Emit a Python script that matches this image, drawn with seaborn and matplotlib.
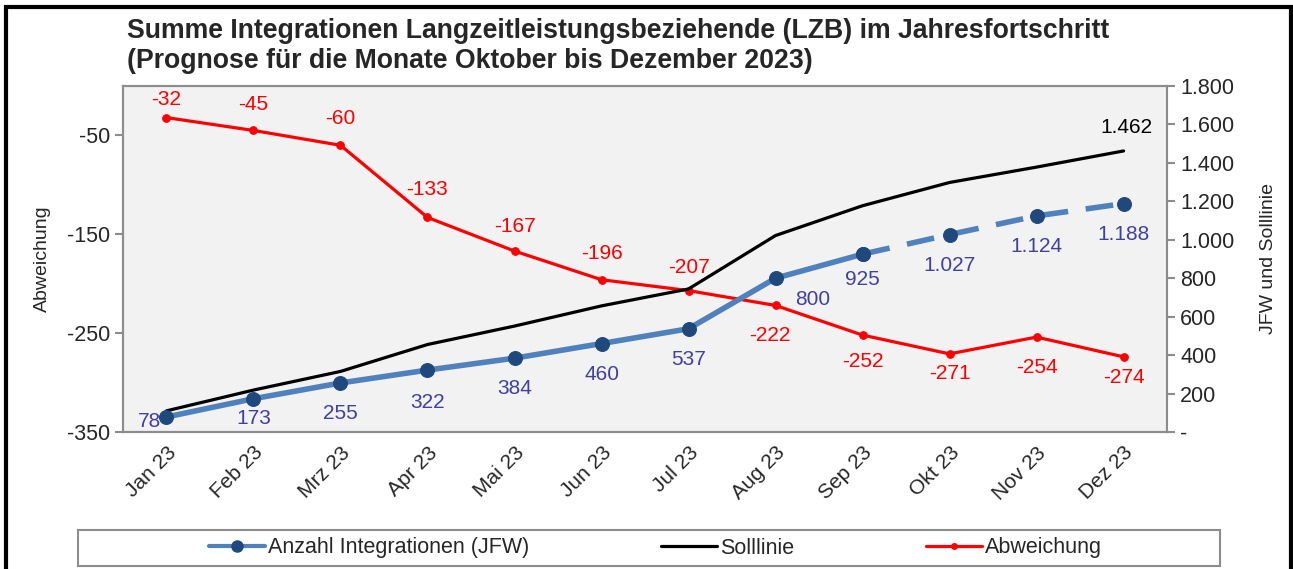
import pandas as pd
import matplotlib
matplotlib.use("Agg")
import matplotlib.pyplot as plt
import seaborn as sns
from matplotlib.lines import Line2D
from matplotlib.patches import Rectangle
from matplotlib.ticker import FuncFormatter, FixedLocator

# ===============================
# DATA
# ===============================

months = ["Jan 23", "Feb 23", "Mrz 23", "Apr 23", "Mai 23", "Jun 23",
          "Jul 23", "Aug 23", "Sep 23", "Okt 23", "Nov 23", "Dez 23"]
jfw = [78, 173, 255, 322, 384, 460, 537, 800, 925, 1027, 1124, 1188]
soll = [110, 218, 315, 455, 551, 656, 744, 1022, 1177, 1298, 1378, 1462]
abw = [-32, -45, -60, -133, -167, -196, -207, -222, -252, -271, -254, -274]
n_ist = 9  # Jan - Sep Ist, Okt - Dez Prognose

df = pd.DataFrame({"pos": range(len(months)), "Monat": months,
                   "JFW": jfw, "Soll": soll, "Abw": abw})

# label offsets in points (x, y), as placed in the original chart
abw_off = [(0, 13), (0, 19), (0, 19), (0, 20), (0, 18), (0, 19), (0, 17),
           (-4, -22), (0, -19), (0, -14), (0, -22), (0, -15)]
jfw_off = [(-4, -3), (0, -14), (0, -22), (0, -23), (0, -22), (0, -22), (0, -22),
           (14, -15), (0, -18), (0, -22), (0, -22), (0, -22)]

# ===============================
# STYLE
# ===============================

sns.set_style("white")
plt.rcParams["font.family"] = ["Liberation Sans", "DejaVu Sans"]
plt.rcParams["axes.unicode_minus"] = False

blue = "#4F81BD"
navy = "#1F497D"
label_blue = "#4040A0"
red = "#FF0000"
grey = "#8C8C8C"


def de_fmt(v):
    return f"{int(v):,}".replace(",", ".")


fig = plt.figure(figsize=(12.93, 5.69), dpi=100)
ax = fig.add_axes([0.0951, 0.2408, 0.8075, 0.6081])
ax.set_facecolor("#F2F2F2")
ax2 = ax.twinx()

# ===============================
# LINES
# ===============================

sns.lineplot(data=df, x="pos", y="Abw", ax=ax, color=red, lw=2.3,
             marker="o", markersize=5.5, markeredgecolor=red, markerfacecolor=red)

sns.lineplot(data=df, x="pos", y="Soll", ax=ax2, color="black", lw=2.3)

sns.lineplot(data=df.iloc[:n_ist], x="pos", y="JFW", ax=ax2, color=blue, lw=4,
             marker="o", markersize=10, markerfacecolor=navy, markeredgecolor=navy)
sns.lineplot(data=df.iloc[n_ist - 1:], x="pos", y="JFW", ax=ax2, color=blue, lw=4,
             linestyle=(0, (5, 3.2)), marker="o", markersize=10,
             markerfacecolor=navy, markeredgecolor=navy)

# ===============================
# DATA LABELS
# ===============================

for i, v in enumerate(abw):
    ax.annotate(str(v), (i, v), xytext=abw_off[i], textcoords="offset points",
                ha="center", va="center", color=red, fontsize=15)

for i, v in enumerate(jfw):
    ha = "right" if i == 0 else ("left" if i == 7 else "center")
    ax2.annotate(de_fmt(v), (i, v), xytext=jfw_off[i], textcoords="offset points",
                 ha=ha, va="center", color=label_blue, fontsize=15)

ax2.annotate(de_fmt(soll[-1]), (len(soll) - 1, soll[-1]), xytext=(2, 17),
             textcoords="offset points", ha="center", va="center",
             color="black", fontsize=15)

# ===============================
# AXES
# ===============================

ax.set_xlim(-0.5, len(months) - 0.5)
ax.set_ylim(-350, 0)
ax2.set_ylim(0, 1800)

ax.set_xticks(range(len(months)))
ax.set_xticklabels(months, rotation=45, ha="right", rotation_mode="anchor",
                   fontsize=15)
ax.xaxis.set_minor_locator(FixedLocator([x - 0.5 for x in range(len(months) + 1)]))
ax.tick_params(axis="x", which="major", length=0, pad=8)
ax.tick_params(axis="x", which="minor", length=6, width=1.5, color=grey,
               direction="out")

ax.set_yticks([-350, -250, -150, -50])
ax.tick_params(axis="y", length=6, width=1.5, color=grey, direction="out",
               labelsize=15.5, left=True)
ax2.set_yticks(range(0, 1801, 200))
ax2.yaxis.set_major_formatter(FuncFormatter(lambda v, p: "-" if v == 0 else de_fmt(v)))
ax2.tick_params(axis="y", length=6, width=1.5, color=grey, direction="out",
                labelsize=15.5, right=True)

ax.set_xlabel("")
ax.set_ylabel("Abweichung", fontsize=14, labelpad=11)
ax2.set_ylabel("JFW und Solllinie", fontsize=14, labelpad=18)

for a in (ax, ax2):
    for s in a.spines.values():
        s.set_color(grey)
        s.set_linewidth(1.5)

# ===============================
# TITLE, LEGEND, FRAME
# ===============================

fig.text(127 / 1293, 1 - 18 / 569,
         "Summe Integrationen Langzeitleistungsbeziehende (LZB) im Jahresfortschritt\n"
         "(Prognose für die Monate Oktober bis Dezember 2023)",
         ha="left", va="top", fontsize=19.2, fontweight="bold", linespacing=1.2)

handles = [
    Line2D([], [], color=blue, lw=3, marker="o", markersize=8,
           markerfacecolor=navy, markeredgecolor=navy),
    Line2D([], [], color="black", lw=2.3),
    Line2D([], [], color=red, lw=2.3, marker="o", markersize=4),
]
fig.legend(handles, ["Anzahl Integrationen (JFW)", "Solllinie", "Abweichung"],
           loc="center", bbox_to_anchor=(0.507, 1 - 548 / 569), ncol=3,
           frameon=False, fontsize=15.5, handlelength=2.6, handletextpad=0.15,
           columnspacing=6.1)

fig.add_artist(Rectangle((78 / 1293, 1 - 566 / 569), 1142 / 1293, 36 / 569,
                         transform=fig.transFigure, fill=False,
                         edgecolor=grey, lw=1.5))
fig.add_artist(Rectangle((6 / 1293, -0.1), 1285 / 1293, 0.1 + 1 - 7 / 569,
                         transform=fig.transFigure, fill=False,
                         edgecolor="black", lw=3))

fig.savefig("out.png", dpi=100)
